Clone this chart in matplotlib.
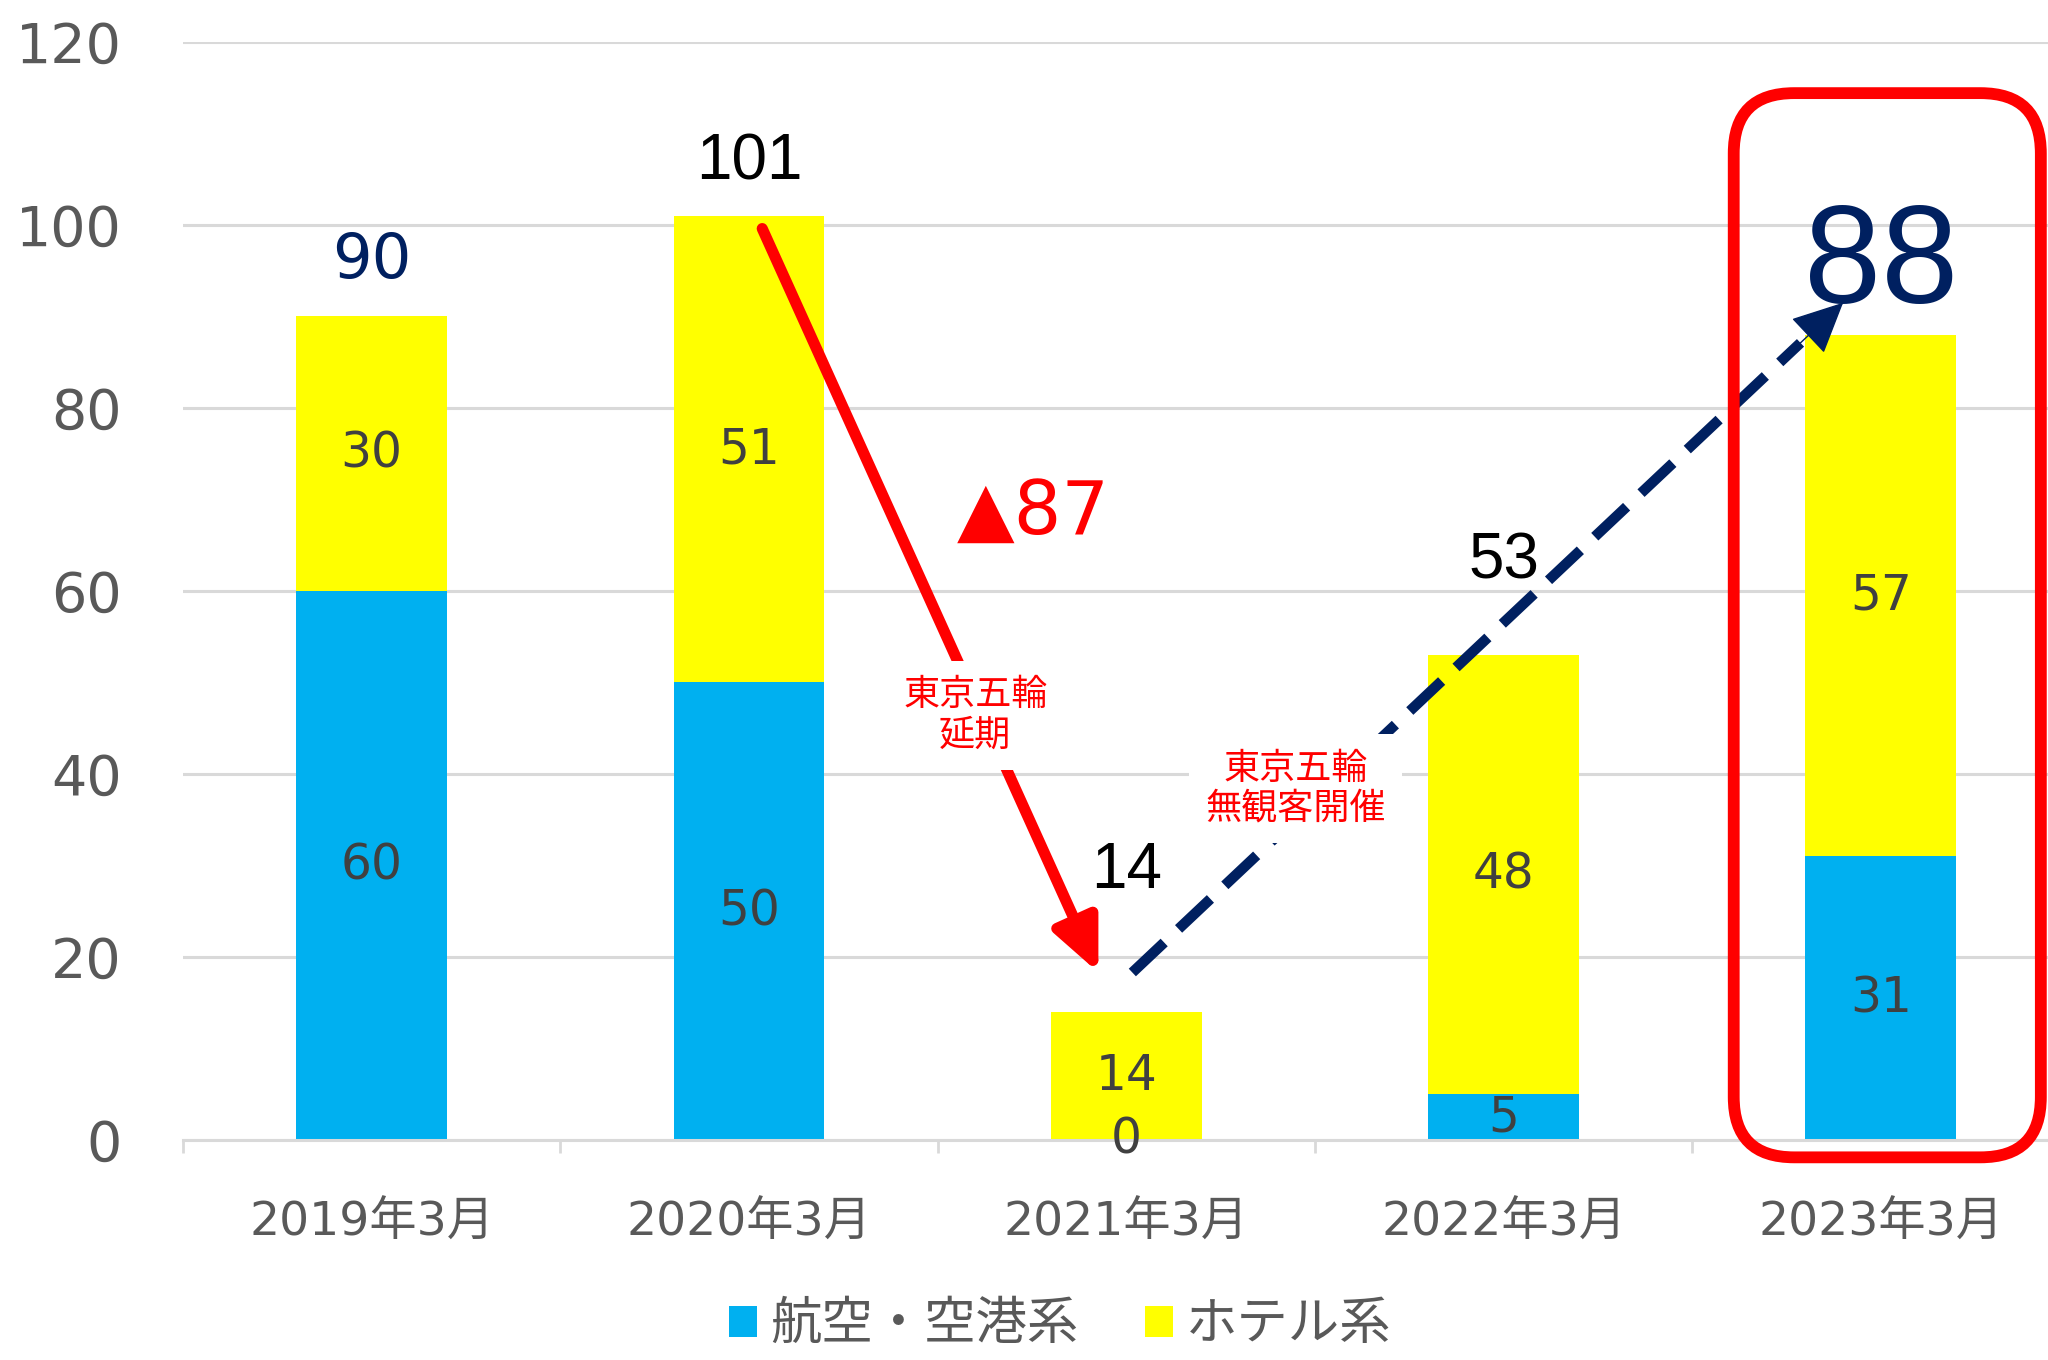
import numpy as np
import matplotlib.pyplot as plt
from matplotlib.patches import FancyBboxPatch, Patch

plt.rcParams['font.family'] = ['DejaVu Sans', 'Noto Sans CJK JP']

# ---------------------------------------------------------------------------
# Data
# ---------------------------------------------------------------------------
categories = ['2019年3月', '2020年3月', '2021年3月', '2022年3月', '2023年3月']
airline = [60, 50, 0, 5, 31]          # 航空・空港系
hotel = [30, 51, 14, 48, 57]          # ホテル系
series_names = ['航空・空港系', 'ホテル系']
totals = [a + h for a, h in zip(airline, hotel)]
yticks = [0, 20, 40, 60, 80, 100, 120]
note_postpone = '東京五輪\n延期'
note_no_fans = '東京五輪\n無観客開催'

# ---------------------------------------------------------------------------
# Style
# ---------------------------------------------------------------------------
BLUE = '#00B0F0'
YELLOW = '#FFFF00'
NAVY = '#002060'
RED = '#FF0000'
GRID = '#D9D9D9'
TICK = '#595959'
INNER = '#404040'
CJK = ['Noto Sans CJK JP', 'DejaVu Sans']

# total label style: colour, size, font, offset above bar (pt, to baseline)
total_colors = [NAVY, 'black', 'black', 'black', NAVY]
total_sizes = [45, 46, 46, 46, 100]
total_fonts = ['DejaVu Sans', 'Liberation Sans', 'Liberation Sans',
               'Liberation Sans', 'Liberation Sans']
total_offsets = [28, 26, 89, 55, 23]

fig = plt.figure(figsize=(20.48, 13.6), dpi=100)
ax = fig.add_axes([0.0894, 0.1618, 0.9211, 0.8074])

x = np.arange(len(categories))
ax.bar(x, airline, width=0.4, color=BLUE, zorder=2)
ax.bar(x, hotel, width=0.4, bottom=airline, color=YELLOW, zorder=2)

# segment labels
for i in x:
    ax.text(i, airline[i] / 2, str(airline[i]), ha='center', va='center',
            fontsize=35, color=INNER, zorder=4)
    ax.text(i, airline[i] + hotel[i] / 2, str(hotel[i]), ha='center',
            va='center', fontsize=35, color=INNER, zorder=4)

# totals above bars
for i in x:
    ax.annotate(str(totals[i]), xy=(i, totals[i]),
                xytext=(0, total_offsets[i]), textcoords='offset points',
                ha='center', va='baseline', fontsize=total_sizes[i],
                color=total_colors[i], family=total_fonts[i], zorder=6)

# drop arrow 2020 -> 2021
ax.annotate('', xy=(2 - 0.074, totals[2] + 4.3),
            xytext=(1 + 0.035, totals[1] - 1.4),
            arrowprops=dict(arrowstyle='-|>,head_length=2.1,head_width=0.95',
                            mutation_scale=15, color=RED, lw=8,
                            shrinkA=0, shrinkB=0), zorder=5)
ax.text(1.753, 66.2, f'▲{totals[1] - totals[2]}', ha='center',
        va='baseline', fontsize=54, color=RED, zorder=6)

# recovery arrow 2021 -> 2023 (dashed shaft + solid head)
x0, y0 = 2 + 0.016, totals[2] + 4.3
x1, y1 = 4 - 0.10, totals[4] + 3.5
xm, ym = x0 + (x1 - x0) * 0.94, y0 + (y1 - y0) * 0.94
ax.plot([x0, xm], [y0, ym], color=NAVY, lw=7.5, ls=(0, (4.2, 1.9)),
        dash_capstyle='butt', zorder=5)
ax.annotate('', xy=(x1, y1), xytext=(xm, ym),
            arrowprops=dict(arrowstyle='-|>,head_length=2.2,head_width=1.05',
                            mutation_scale=15, color=NAVY, lw=1,
                            shrinkA=0, shrinkB=0), zorder=5)

# event notes
box = dict(boxstyle='square,pad=0.45', facecolor='white', edgecolor='none')
ax.text(1.60, 46.4, note_postpone, ha='center', va='center', fontsize=26,
        color=RED, family=CJK, linespacing=1.15, bbox=box, zorder=7)
ax.text(2.449, 38.4, note_no_fans, ha='center', va='center', fontsize=26,
        color=RED, family=CJK, linespacing=1.15, bbox=box, zorder=7)

# highlight box around the latest year
hl = FancyBboxPatch((3.610, -1.9), 4.424 - 3.610, 114.4 + 1.9,
                    boxstyle='round,pad=0,rounding_size=0.16',
                    mutation_aspect=41.2, fill=False, edgecolor=RED,
                    lw=8.5, clip_on=False, zorder=8)
ax.add_patch(hl)

# axes styling
ax.set_xlim(-0.5, len(categories) - 0.5)
ax.set_ylim(0, 120)
ax.set_yticks(yticks)
ax.set_xticks(x)
ax.set_xticklabels(categories)
ax.set_xticks(np.arange(len(categories) + 1) - 0.5, minor=True)
ax.tick_params(axis='y', length=0, pad=44, labelsize=40, labelcolor=TICK)
ax.tick_params(axis='x', which='major', length=0, pad=44, labelsize=34,
               labelcolor=TICK)
ax.tick_params(axis='x', which='minor', length=9, width=2, color=GRID,
               direction='out')
ax.yaxis.grid(True, color=GRID, lw=2.2)
ax.set_axisbelow(True)
for side in ('left', 'right', 'top'):
    ax.spines[side].set_visible(False)
ax.spines['bottom'].set_color(GRID)
ax.spines['bottom'].set_linewidth(2.2)

handles = [Patch(facecolor=BLUE, edgecolor='none'),
           Patch(facecolor=YELLOW, edgecolor='none')]
fig.legend(handles, series_names, loc='center', bbox_to_anchor=(0.5176, 0.026),
           ncol=2, frameon=False, prop={'family': CJK, 'size': 37},
           labelcolor=TICK, handlelength=0.55, handleheight=0.55,
           handletextpad=0.25, columnspacing=1.3, borderpad=0.1)

fig.savefig('out.png', dpi=100)
